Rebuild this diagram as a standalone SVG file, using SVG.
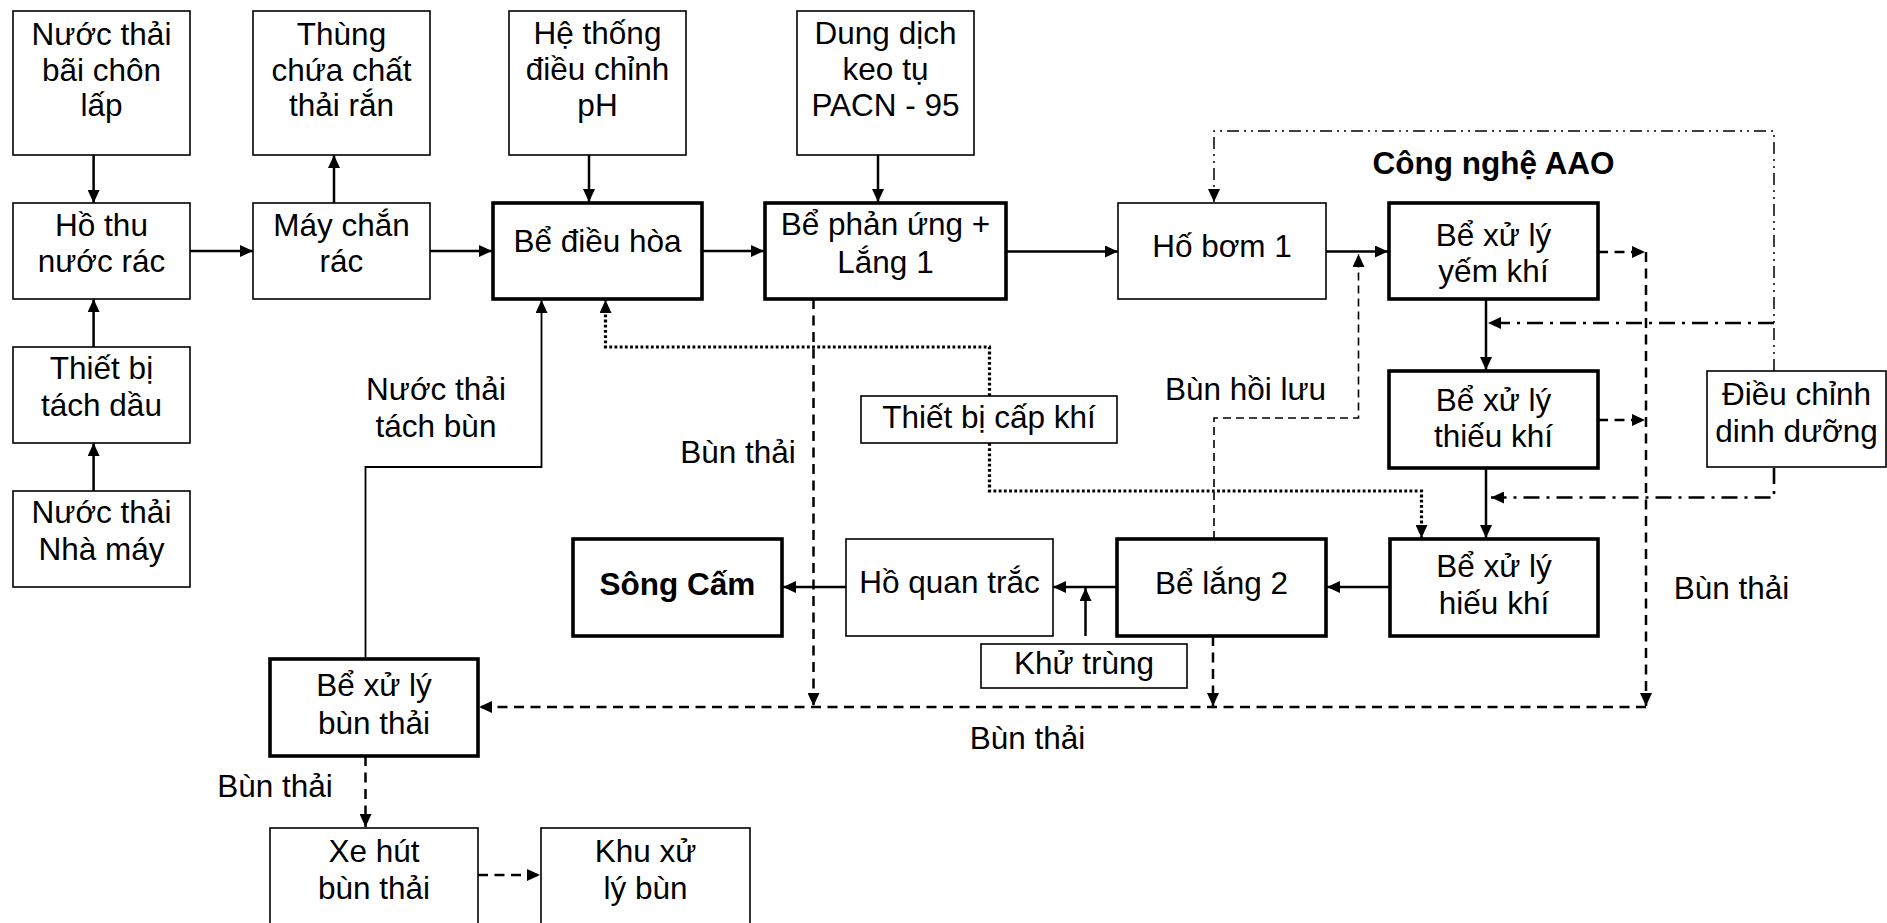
<svg xmlns="http://www.w3.org/2000/svg" width="1887" height="923" viewBox="0 0 1887 923">
<defs>
<style>
.thin{fill:#fff;stroke:#000;stroke-width:1.6}
.thick{fill:#fff;stroke:#000;stroke-width:3.6}
text{font-family:"Liberation Sans",Arial,sans-serif;font-size:31.5px;fill:#000;text-anchor:middle}
.b{font-weight:bold}
.c{fill:none;stroke:#000;stroke-width:2.5}
.cl{fill:none;stroke:#000;stroke-width:1.8}
.dash{fill:none;stroke:#000;stroke-width:2.5;stroke-dasharray:10 6.5}
.dashthin{fill:none;stroke:#000;stroke-width:1.6;stroke-dasharray:8 5}
.dot{fill:none;stroke:#000;stroke-width:3.2;stroke-dasharray:2.8 2.4}
.dd{fill:none;stroke:#000;stroke-width:1.5;stroke-dasharray:12 5 2 5 2 5}
.dd2{fill:none;stroke:#000;stroke-width:2.6;stroke-dasharray:16 7 3 7}
</style>
<marker id="arr" viewBox="0 0 13 12" markerWidth="13" markerHeight="12" refX="13" refY="6" orient="auto" markerUnits="userSpaceOnUse">
<path d="M0,0 L13,6 L0,12 z" fill="#000"/>
</marker>
</defs>
<rect width="1887" height="923" fill="#fff"/>

<g id="connectors">
<line class="c" x1="93.6" y1="155" x2="93.6" y2="203" marker-end="url(#arr)"/>
<line class="c" x1="93.6" y1="347" x2="93.6" y2="299" marker-end="url(#arr)"/>
<line class="c" x1="93.6" y1="491" x2="93.6" y2="443" marker-end="url(#arr)"/>
<line class="c" x1="190" y1="251" x2="253" y2="251" marker-end="url(#arr)"/>
<line class="c" x1="334" y1="203" x2="334" y2="155" marker-end="url(#arr)"/>
<line class="c" x1="430" y1="251" x2="492" y2="251" marker-end="url(#arr)"/>
<line class="c" x1="589" y1="155" x2="589" y2="202" marker-end="url(#arr)"/>
<line class="c" x1="702" y1="251" x2="764" y2="251" marker-end="url(#arr)"/>
<line class="c" x1="878" y1="155" x2="878" y2="202" marker-end="url(#arr)"/>
<line class="c" x1="1006" y1="251.5" x2="1118" y2="251.5" marker-end="url(#arr)"/>
<line class="c" x1="1326" y1="251.5" x2="1388" y2="251.5" marker-end="url(#arr)"/>
<line class="c" x1="1486" y1="299" x2="1486" y2="370" marker-end="url(#arr)"/>
<line class="c" x1="1486" y1="468" x2="1486" y2="538" marker-end="url(#arr)"/>
<line class="c" x1="1390" y1="587" x2="1327" y2="587" marker-end="url(#arr)"/>
<line class="c" x1="1117" y1="587" x2="1053" y2="587" marker-end="url(#arr)"/>
<line class="c" x1="846" y1="587" x2="783" y2="587" marker-end="url(#arr)"/>
<line class="c" x1="1085.5" y1="636" x2="1085.5" y2="588" marker-end="url(#arr)"/>
<polyline class="cl" points="365.5,659 365.5,467 541.5,467 541.5,300" marker-end="url(#arr)"/>

<line class="dash" x1="813.5" y1="299" x2="813.5" y2="706" marker-end="url(#arr)"/>
<line class="dash" x1="1213" y1="636" x2="1213" y2="706" marker-end="url(#arr)"/>
<line class="dash" x1="1646" y1="252" x2="1646" y2="706" marker-end="url(#arr)"/>
<line class="dash" x1="1646" y1="707" x2="479" y2="707" marker-end="url(#arr)"/>
<line class="dash" x1="1598" y1="252" x2="1645" y2="252" marker-end="url(#arr)"/>
<line class="dash" x1="1598" y1="420" x2="1645" y2="420" marker-end="url(#arr)"/>
<line class="dash" x1="365.5" y1="756" x2="365.5" y2="827" marker-end="url(#arr)"/>
<line class="dash" x1="478" y1="875" x2="540" y2="875" marker-end="url(#arr)"/>
<polyline class="dashthin" points="1214,539 1214,418 1358.5,418 1358.5,254" marker-end="url(#arr)"/>

<polyline class="dot" points="989.5,396 989.5,347 605.5,347 605.5,300" marker-end="url(#arr)"/>
<polyline class="dot" points="989.5,443 989.5,491 1421.5,491 1421.5,538" marker-end="url(#arr)"/>

<polyline class="dd" points="1774,371 1774,131 1214,131 1214,202" marker-end="url(#arr)"/>
<line class="dd2" x1="1774" y1="323" x2="1488" y2="323" marker-end="url(#arr)"/>
<polyline class="dd2" points="1774,468 1774,497.5 1491,497.5" marker-end="url(#arr)"/>
</g>

<g id="n_ntbcl"><rect class="thin" x="13" y="11" width="177" height="144"/><text><tspan x="101.5" y="45">Nước thải</tspan><tspan x="101.5" y="80.5">bãi chôn</tspan><tspan x="101.5" y="116">lấp</tspan></text></g>
<g id="n_thung"><rect class="thin" x="253" y="11" width="177" height="144"/><text><tspan x="341.5" y="45">Thùng</tspan><tspan x="341.5" y="80.5">chứa chất</tspan><tspan x="341.5" y="116">thải rắn</tspan></text></g>
<g id="n_heth"><rect class="thin" x="509" y="11" width="177" height="144"/><text><tspan x="597.5" y="44">Hệ thống</tspan><tspan x="597.5" y="80">điều chỉnh</tspan><tspan x="597.5" y="116">pH</tspan></text></g>
<g id="n_dungdich"><rect class="thin" x="797" y="11" width="177" height="144"/><text><tspan x="885.5" y="44">Dung dịch</tspan><tspan x="885.5" y="80">keo tụ</tspan><tspan x="885.5" y="116">PACN - 95</tspan></text></g>
<g id="n_hothu"><rect class="thin" x="13" y="203" width="177" height="96"/><text><tspan x="101.5" y="236">Hồ thu</tspan><tspan x="101.5" y="272">nước rác</tspan></text></g>
<g id="n_maychan"><rect class="thin" x="253" y="203" width="177" height="96"/><text><tspan x="341.5" y="236">Máy chắn</tspan><tspan x="341.5" y="272">rác</tspan></text></g>
<g id="n_bedieuhoa"><rect class="thick" x="493" y="203" width="209" height="96"/><text x="597.5" y="252">Bể điều hòa</text></g>
<g id="n_bephanung"><rect class="thick" x="765" y="203" width="241" height="96"/><text><tspan x="885.5" y="235">Bể phản ứng +</tspan><tspan x="885.5" y="273">Lắng 1</tspan></text></g>
<g id="n_hobom"><rect class="thin" x="1118" y="203" width="208" height="96"/><text x="1222" y="257">Hố bơm 1</text></g>
<g id="n_aao_label"><text class="b" x="1493.5" y="174">Công nghệ AAO</text></g>
<g id="n_yemkhi"><rect class="thick" x="1389" y="203" width="209" height="96"/><text><tspan x="1493.5" y="246">Bể xử lý</tspan><tspan x="1493.5" y="282">yếm khí</tspan></text></g>
<g id="n_thieukhi"><rect class="thick" x="1389" y="371" width="209" height="97"/><text><tspan x="1493.5" y="411">Bể xử lý</tspan><tspan x="1493.5" y="447">thiếu khí</tspan></text></g>
<g id="n_dieuchinh"><rect class="thin" x="1707" y="371" width="179" height="96"/><text><tspan x="1796.5" y="405">Điều chỉnh</tspan><tspan x="1796.5" y="442">dinh dưỡng</tspan></text></g>
<g id="n_hieukhi"><rect class="thick" x="1390" y="539" width="208" height="97"/><text><tspan x="1494" y="577">Bể xử lý</tspan><tspan x="1494" y="614">hiếu khí</tspan></text></g>
<g id="n_lang2"><rect class="thick" x="1117" y="539" width="209" height="97"/><text x="1221.5" y="594">Bể lắng 2</text></g>
<g id="n_hoquantrac"><rect class="thin" x="846" y="539" width="207" height="97"/><text x="949.5" y="593">Hồ quan trắc</text></g>
<g id="n_songcam"><rect class="thick" x="573" y="539" width="209" height="97"/><text class="b" x="677.5" y="595">Sông Cấm</text></g>
<g id="n_khutrung"><rect class="thin" x="981" y="644" width="206" height="44"/><text x="1084" y="674">Khử trùng</text></g>
<g id="n_capkhi"><rect class="thin" x="861" y="396" width="256" height="47"/><text x="989" y="428">Thiết bị cấp khí</text></g>
<g id="n_tachdau"><rect class="thin" x="13" y="347" width="177" height="96"/><text><tspan x="101.5" y="379">Thiết bị</tspan><tspan x="101.5" y="416">tách dầu</tspan></text></g>
<g id="n_ntnhamay"><rect class="thin" x="13" y="491" width="177" height="96"/><text><tspan x="101.5" y="523">Nước thải</tspan><tspan x="101.5" y="560">Nhà máy</tspan></text></g>
<g id="n_bxlbun"><rect class="thick" x="270" y="659" width="208" height="97"/><text><tspan x="374" y="696">Bể xử lý</tspan><tspan x="374" y="734">bùn thải</tspan></text></g>
<g id="n_xehut"><rect class="thin" x="270" y="828" width="208" height="96"/><text><tspan x="374" y="862">Xe hút</tspan><tspan x="374" y="899">bùn thải</tspan></text></g>
<g id="n_khuxuly"><rect class="thin" x="541" y="828" width="209" height="96"/><text><tspan x="645.5" y="862">Khu xử</tspan><tspan x="645.5" y="899">lý bùn</tspan></text></g>

<g id="labels">
<text><tspan x="436" y="400">Nước thải</tspan><tspan x="436" y="437">tách bùn</tspan></text>
<text x="738" y="463">Bùn thải</text>
<text x="1245.5" y="400">Bùn hồi lưu</text>
<text x="1731.5" y="599">Bùn thải</text>
<text x="1027.5" y="749">Bùn thải</text>
<text x="275" y="797">Bùn thải</text>
</g>
</svg>
